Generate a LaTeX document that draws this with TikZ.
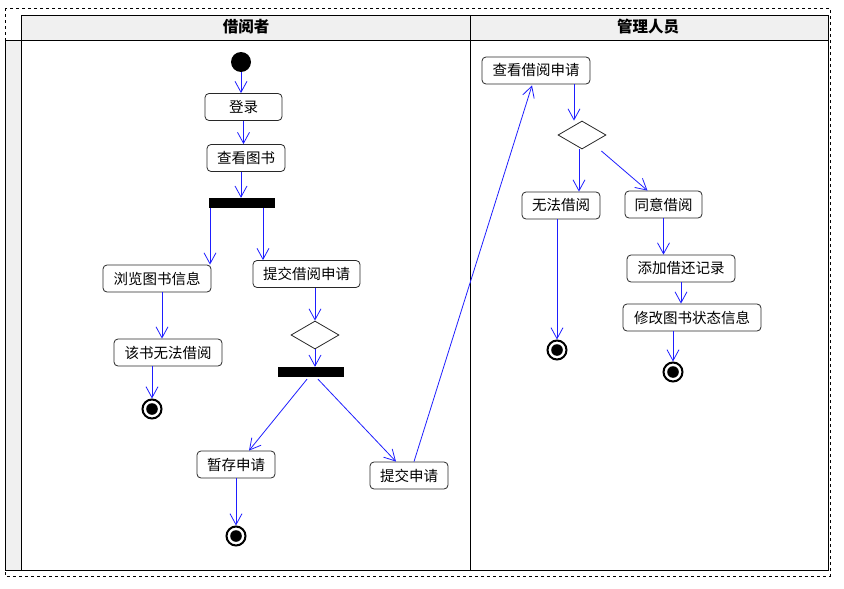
\documentclass[tikz,border=0pt]{standalone}
\usepackage{fontspec}
\newfontfamily\cjk{Noto Sans CJK SC}
\usetikzlibrary{arrows.meta,shapes.geometric,calc}
\definecolor{lanegray}{RGB}{240,240,240}
\definecolor{flowblue}{RGB}{30,30,255}
\definecolor{boxline}{RGB}{40,40,40}
\tikzset{
  act/.style={draw=boxline,line width=0.8pt,rounded corners=4pt,minimum height=27pt,inner sep=2pt,font=\cjk\fontsize{14.5}{16}\selectfont,fill=white},
  bar/.style={fill=black,inner sep=0pt,minimum width=66pt,minimum height=10pt},
  choice/.style={draw=boxline,line width=0.8pt,diamond,aspect=1.7,inner sep=0pt,minimum width=48pt,minimum height=28pt,fill=white},
  flow/.style={draw=flowblue,line width=0.8pt,-{Straight Barb[length=11pt,width=12pt]}},
  startdot/.style={circle,fill=black,inner sep=0pt,minimum size=20pt},
  enddot/.style={circle,draw=black,line width=2pt,fill=white,inner sep=0pt,minimum size=19pt,
    path picture={\fill[black] (path picture bounding box.center) circle (5.8pt);}},
  lanetitle/.style={font=\cjk\bfseries\fontsize{15.5}{17}\selectfont}
}
\begin{document}
\begin{tikzpicture}[x=1pt,y=-1pt]
\useasboundingbox (0,0) rectangle (844,589);
% frames
\draw[dashed,line width=0.6pt] (5,8) rectangle (830,576);
\fill[lanegray] (21,15) rectangle (828,40);
\fill[lanegray] (5,40) rectangle (21,570);
\draw[line width=0.8pt] (21,15) rectangle (828,570);
\draw[line width=0.8pt] (5,40) -- (828,40);
\draw[line width=0.8pt] (5,40) -- (5,570) -- (21,570);
\draw[line width=0.8pt] (470,15) -- (470,570);
\node[lanetitle] (t1) at (246,27) {借阅者};
\node[lanetitle] (t2) at (648,27) {管理人员};
% left lane
\node[startdot] (s) at (241,62) {};
\node[act,minimum width=77pt] (login) at (243.5,107) {登录};
\node[act,minimum width=78pt] (view) at (246,158) {查看图书};
\node[bar] (f1) at (242,203) {};
\node[act,minimum width=108pt] (browse) at (157,278.5) {浏览图书信息};
\node[act,minimum width=107pt] (submitreq) at (306.5,274) {提交借阅申请};
\node[choice] (d1) at (315,335) {};
\node[bar] (f2) at (311,372) {};
\node[act,minimum width=108pt] (cannot) at (168,352.5) {该书无法借阅};
\node[enddot] (e1) at (152,409) {};
\node[act,minimum width=78pt] (save) at (236,464.5) {暂存申请};
\node[enddot] (e2) at (236,536) {};
\node[act,minimum width=78pt] (submit) at (409,475.5) {提交申请};
% right lane
\node[act,minimum width=108pt] (check) at (536,70.5) {查看借阅申请};
\node[choice] (d2) at (582,135) {};
\node[act,minimum width=78pt] (refuse) at (561,205.5) {无法借阅};
\node[act,minimum width=77pt] (agree) at (663.5,204.5) {同意借阅};
\node[act,minimum width=108pt] (record) at (681,268.5) {添加借还记录};
\node[act,minimum width=138pt] (modify) at (692,317.5) {修改图书状态信息};
\node[enddot] (e3) at (557,350) {};
\node[enddot] (e4) at (673,372) {};
% flows
\draw[flow] (s) -- (login.north -| s);
\draw[flow] (login.south) -- (view.north -| login.south);
\draw[flow] ([xshift=-5pt]view.south) -- ([xshift=-5pt]view.south |- f1.north);
\draw[flow] ([xshift=-32pt]f1.south) -- ([xshift=-32pt]f1.south |- browse.north);
\draw[flow] ([xshift=21pt]f1.south) -- ([xshift=21pt]f1.south |- submitreq.north);
\draw[flow] ([xshift=5pt]browse.south) -- ([xshift=5pt]browse.south |- cannot.north);
\draw[flow] ([xshift=-16pt]cannot.south) -- (e1.north);
\draw[flow] ([xshift=8.5pt]submitreq.south) -- (d1.north);
\draw[flow] (d1.south) -- (f2.north -| d1.south);
\draw[flow] ([xshift=-4pt,yshift=-2pt]f2.south) -- ([xshift=13pt]save.north);
\draw[flow] ([xshift=7pt,yshift=-2pt]f2.south) -- ([xshift=-13pt]submit.north);
\draw[flow] (save.south) -- (e2.north);
\draw[flow] ([xshift=5pt]submit.north) -- ([xshift=-4pt,yshift=-1pt]check.south);
\draw[flow] ([xshift=38pt]check.south) -- ([xshift=38pt]check.south |- d2.north);
\draw[flow] ([xshift=-3pt]d2.south) -- ([xshift=-3pt]d2.south |- refuse.north);
\draw[flow] ($(d2.east)+(-5pt,-16pt)$) -- ([xshift=-16pt]agree.north);
\draw[flow] ([xshift=-4pt]refuse.south) -- (e3.north);
\draw[flow] (agree.south) -- (agree.south |- record.north);
\draw[flow] (record.south) -- (record.south |- modify.north);
\draw[flow] ([xshift=-19pt]modify.south) -- (e4.north);
\end{tikzpicture}
\end{document}
